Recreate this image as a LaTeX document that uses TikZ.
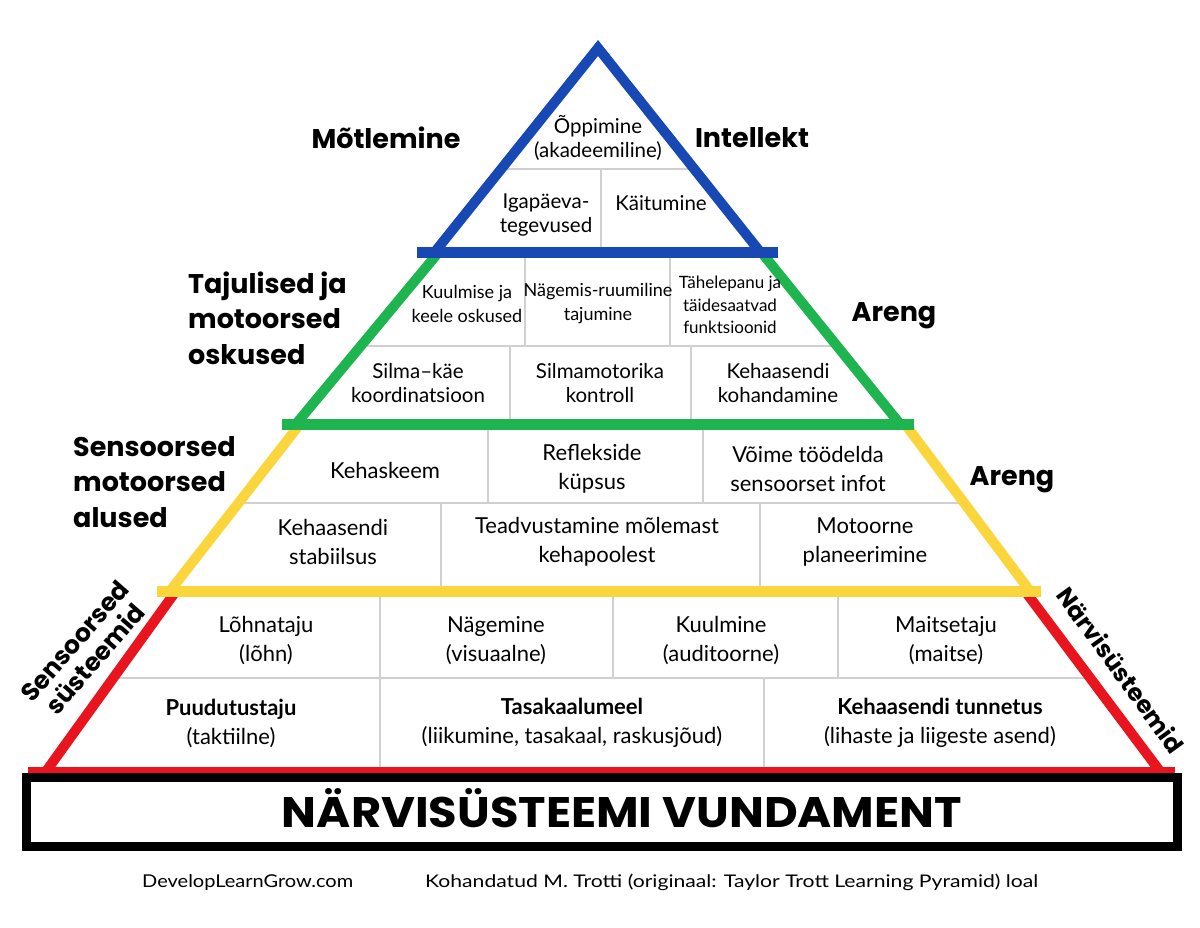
\documentclass[tikz,border=0pt]{standalone}
\usepackage{fontspec}
\usepackage{graphicx}
\setmainfont{Lato}
\newfontfamily\headfont{Poppins}
\definecolor{blueP}{RGB}{24,72,180}
\definecolor{greenP}{RGB}{30,180,80}
\definecolor{yellowP}{RGB}{250,214,60}
\definecolor{redP}{RGB}{232,20,30}
\definecolor{divgray}{RGB}{208,208,208}
\tikzset{
  side/.style={line width=10pt, line cap=butt},
  bar/.style={line width=11pt, line cap=butt},
  div/.style={draw=divgray, line width=1.3pt},
  txt/.style={align=center, inner sep=0pt, font=\fontsize{20.5}{24}\selectfont},
  txtg/.style={align=center, inner sep=0pt, font=\fontsize{18}{24}\selectfont},
  txts/.style={align=center, inner sep=0pt, font=\fontsize{17}{22.5}\selectfont},
  txtr/.style={align=center, inner sep=0pt, font=\fontsize{22}{29}\selectfont},
  head/.style={inner sep=0pt, font=\headfont\bfseries\fontsize{27}{35.5}\selectfont},
  rothead/.style={inner sep=0pt, align=center, font=\headfont\bfseries\fontsize{25}{27}\selectfont}
}
\begin{document}
\begin{tikzpicture}[x=1pt,y=-1pt]
\useasboundingbox[fill=white] (0,0) rectangle (1200,928);

% ---------- divider lines ----------
% blue
\draw[div] (500,169) -- (696,169);
\draw[div] (601,169) -- (601,253);
% green
\draw[div] (356,346) -- (841,346);
\draw[div] (525,253) -- (525,346);
\draw[div] (670,253) -- (670,346);
\draw[div] (510,346) -- (510,424);
\draw[div] (691,346) -- (691,424);
% yellow
\draw[div] (235,503) -- (967,503);
\draw[div] (488,424) -- (488,503);
\draw[div] (703,424) -- (703,503);
\draw[div] (441,503) -- (441,591);
\draw[div] (760,503) -- (760,591);
% red
\draw[div] (108,678) -- (1095,678);
\draw[div] (380,591) -- (380,770);
\draw[div] (613,591) -- (613,678);
\draw[div] (838,591) -- (838,678);
\draw[div] (764,678) -- (764,770);

% ---------- coloured sides ----------
\draw[side, blueP, line join=miter] (434,253) -- (598,48) -- (761,253);
\draw[side, greenP] (438,253) -- (296,424);
\draw[side, greenP] (762,253) -- (900,424);
\draw[side, yellowP] (300,424) -- (170,591);
\draw[side, yellowP] (905,424) -- (1030,591);
\draw[side, redP] (176,591) -- (47,770);
\draw[side, redP] (1025,591) -- (1159,770);

% ---------- bars ----------
\draw[bar, blueP] (417,253) -- (778,253);
\draw[bar, greenP] (282,424) -- (914,424);
\draw[bar, yellowP] (157,591) -- (1041,591);
\draw[line width=7pt, redP] (28,770) -- (1175,770);

% ---------- foundation ----------
\draw[line width=9pt] (26,777.5) rectangle (1177,846.5);
\node[inner sep=0pt, anchor=base] (vund) at (622,827)
  {\resizebox{680pt}{39pt}{\headfont\bfseries NÄRVISÜSTEEMI VUNDAMENT}};

% ---------- blue level ----------
\node[txt] (oppimine) at (598,138) {Õppimine\\(akadeemiline)};
\node[txt] (igap) at (546,215) {Igapäeva-\\tegevused};
\node[txt] (kaitum) at (661,203) {Käitumine};

% ---------- green level ----------
\node[txtg] (kuulm) at (467,304) {Kuulmise ja\\keele oskused};
\node[txtg] (nagem) at (598,304) {Nägemis-ruumiline\\tajumine};
\node[txts] (tahel) at (730,305) {Tähelepanu ja\\täidesaatvad\\funktsioonid};
\node[txt] (silma) at (418,383) {Silma–käe\\koordinatsioon};
\node[txt] (silmam) at (600,383) {Silmamotorika\\kontroll};
\node[txt] (kehakoh) at (778,383) {Kehaasendi\\kohandamine};

% ---------- yellow level ----------
\node[txtr] (kehask) at (385,470) {Kehaskeem};
\node[txtr] (refl) at (592,469) {Reflekside\\küpsus};
\node[txtr] (voime) at (808,469) {Võime töödelda\\sensoorset infot};
\node[txtr] (kehastab) at (333,542) {Kehaasendi\\stabiilsus};
\node[txtr] (teadv) at (597,542) {Teadvustamine mõlemast\\kehapoolest};
\node[txtr] (motoorne) at (865,542) {Motoorne\\planeerimine};

% ---------- red level ----------
\node[txtr] (lohn) at (266,641) {Lõhnataju\\(lõhn)};
\node[txtr] (nagemine) at (496,641) {Nägemine\\(visuaalne)};
\node[txtr] (kuulmine) at (721,641) {Kuulmine\\(auditoorne)};
\node[txtr] (maitse) at (946,641) {Maitsetaju\\(maitse)};
\node[txtr] (puud) at (231,723) {\textbf{Puudutustaju}\\(taktiilne)};
\node[txtr] (tasak) at (572,723) {\textbf{Tasakaalumeel}\\(liikumine, tasakaal, raskusjõud)};
\node[txtr] (kehatun) at (940,723) {\textbf{Kehaasendi tunnetus}\\(lihaste ja liigeste asend)};

% ---------- side labels ----------
\node[head] (motl) at (386,138) {Mõtlemine};
\node[head] (intel) at (752,138) {Intellekt};
\node[head, align=left, anchor=west] (tajul) at (188,318) {Tajulised ja\\motoorsed\\oskused};
\node[head] (areng1) at (894,316) {Areng};
\node[head, align=left, anchor=west] (senso) at (73,482) {Sensoorsed\\motoorsed\\alused};
\node[head] (areng2) at (1012,480) {Areng};
\node[rothead, rotate=49] (sensys) at (85,650) {Sensoorsed\\süsteemid};
\node[rothead, rotate=-54, font=\headfont\bfseries\fontsize{24}{27}\selectfont] (narv) at (1121,670) {Närvisüsteemid};

% ---------- footer ----------
\node[inner sep=0pt, anchor=base west] (dlg) at (142,887)
  {\resizebox{211pt}{13pt}{DevelopLearnGrow.com}};
\node[inner sep=0pt, anchor=base west] (kohand) at (425,887)
  {\resizebox{613pt}{13.5pt}{Kohandatud M. Trotti (originaal: Taylor Trott Learning Pyramid) loal}};
\end{tikzpicture}
\end{document}
